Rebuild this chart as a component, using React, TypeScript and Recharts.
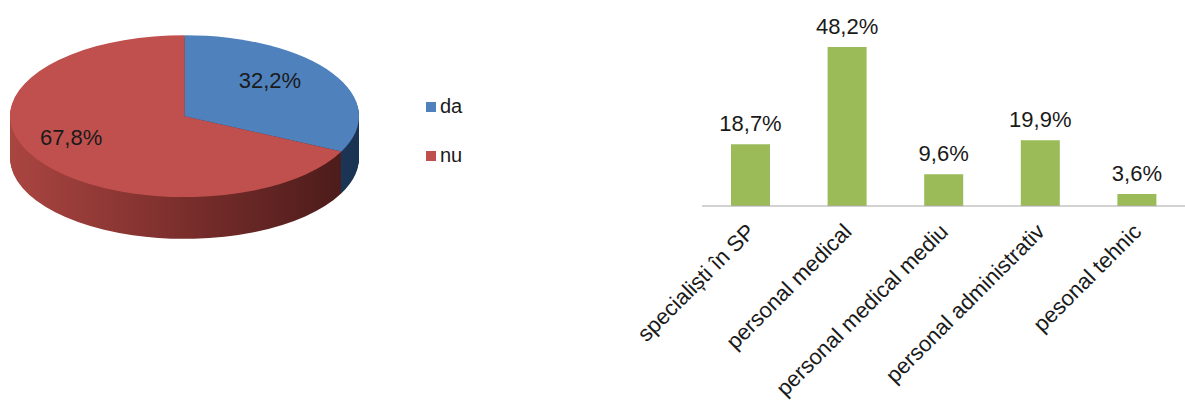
import React from "react";
import { PieChart, Pie, Cell, Legend, BarChart, Bar, XAxis, YAxis, LabelList } from "recharts";

// pie: share of answers
const pieNames = ["da", "nu"];
const pieValues = [32.2, 67.8];
const pieColors = ["#4f81bd", "#c0504d"];

// bars: staff categories
const barCategories = [
  "specialiști în SP",
  "personal medical",
  "personal medical mediu",
  "personal administrativ",
  "pesonal tehnic",
];
const barValues = [18.7, 48.2, 9.6, 19.9, 3.6];

const pieData = pieNames.map((name, i) => ({ name, value: pieValues[i] }));
const barData = barCategories.map((name, i) => ({ name, value: barValues[i] }));

const fmt = (v: number) => v.toFixed(1).replace(".", ",") + "%";

// 3d pie is a flat pie squashed vertically; the side is made of stacked pies
const R = 174.5;
const CX = 184.5;
const SQUASH = 0.464;
const CY_PRE = 177;
const DEPTH_PRE = 90;
const TOP_CY = 116;
const layers: number[] = [];
for (let d = DEPTH_PRE; d > 0; d -= 2) layers.push(d);

const renderPieLabel = (p: any) => {
  const a = (p.midAngle * Math.PI) / 180;
  const x = p.cx + 0.672 * p.outerRadius * Math.cos(a) - 14;
  const y = p.cy - 7 - 0.672 * p.outerRadius * SQUASH * Math.sin(a);
  return (
    <text x={x} y={y} textAnchor="middle" dominantBaseline="central" fontSize={22} fill="#1a1a1a">
      {fmt(p.value)}
    </text>
  );
};

const PieLegend = () => (
  <div>
    {pieNames.map((n, i) => (
      <div key={n} style={{ display: "flex", alignItems: "center", height: 49 }}>
        <span style={{ width: 10, height: 10, background: pieColors[i], marginRight: 4 }} />
        <span style={{ fontSize: 20, color: "#1a1a1a" }}>{n}</span>
      </div>
    ))}
  </div>
);

const CategoryTick = (props: any) => {
  const { x, y, payload } = props;
  const ax = x + 6;
  const ay = y + 27;
  return (
    <text
      x={ax}
      y={ay}
      transform={`rotate(-45, ${ax}, ${ay})`}
      textAnchor="end"
      fontSize={22}
      fill="#1a1a1a"
    >
      {payload.value}
    </text>
  );
};

export default function App() {
  return (
    <div
      style={{
        position: "absolute",
        left: 0,
        top: 0,
        width: 1185,
        height: 401,
        background: "#fff",
        overflow: "hidden",
        fontFamily: "'Liberation Sans', Arial, sans-serif",
      }}
    >
      <div
        style={{
          position: "absolute",
          left: 0,
          top: TOP_CY - SQUASH * CY_PRE,
          width: 370,
          height: 450,
          transform: `scaleY(${SQUASH})`,
          transformOrigin: "top left",
        }}
      >
        <PieChart width={370} height={450} margin={{ top: 0, right: 0, bottom: 0, left: 0 }}>
          <defs>
            <linearGradient id="sideRed" gradientUnits="userSpaceOnUse" x1={CX - R} y1={0} x2={CX + R} y2={0}>
              <stop offset="0%" stopColor="#aa4541" />
              <stop offset="50%" stopColor="#7a2e2c" />
              <stop offset="100%" stopColor="#471a19" />
            </linearGradient>
            <linearGradient id="sideBlue" gradientUnits="userSpaceOnUse" x1={CX - R} y1={0} x2={CX + R} y2={0}>
              <stop offset="0%" stopColor="#2f5480" />
              <stop offset="100%" stopColor="#1b3352" />
            </linearGradient>
          </defs>
          {layers.map((d) => (
            <Pie
              key={d}
              data={pieData}
              dataKey="value"
              cx={CX}
              cy={CY_PRE + d}
              outerRadius={R}
              startAngle={90}
              endAngle={-270}
              stroke="none"
              legendType="none"
              isAnimationActive={false}
            >
              {pieData.map((e, i) => (
                <Cell key={e.name} fill={i === 0 ? "url(#sideBlue)" : "url(#sideRed)"} />
              ))}
            </Pie>
          ))}
          <Pie
            data={pieData}
            dataKey="value"
            cx={CX}
            cy={CY_PRE}
            outerRadius={R}
            startAngle={90}
            endAngle={-270}
            stroke="none"
            legendType="none"
            isAnimationActive={false}
          >
            {pieData.map((e, i) => (
              <Cell key={e.name} fill={pieColors[i]} />
            ))}
          </Pie>
        </PieChart>
      </div>

      <div style={{ position: "absolute", left: 0, top: 0 }}>
        <PieChart width={600} height={260} margin={{ top: 0, right: 0, bottom: 0, left: 0 }}>
          <Pie
            data={pieData}
            dataKey="value"
            cx={CX}
            cy={TOP_CY}
            outerRadius={R}
            startAngle={90}
            endAngle={-270}
            stroke="none"
            fillOpacity={0}
            label={renderPieLabel}
            labelLine={false}
            isAnimationActive={false}
          >
            {pieData.map((e, i) => (
              <Cell key={e.name} fill={pieColors[i]} />
            ))}
          </Pie>
          <Legend content={<PieLegend />} wrapperStyle={{ left: 426, top: 82, width: 80 }} />
        </PieChart>
      </div>

      <div style={{ position: "absolute", left: 600, top: 0 }}>
        <BarChart width={585} height={401} data={barData} margin={{ top: 41, right: 0, bottom: 0, left: 102 }}>
          <XAxis
            dataKey="name"
            interval={0}
            height={195}
            tickLine={false}
            tickSize={0}
            tickMargin={0}
            axisLine={{ stroke: "#a6a6a6" }}
            tick={<CategoryTick />}
          />
          <YAxis hide domain={[0, 50]} />
          <Bar dataKey="value" fill="#9bbb59" barSize={39} isAnimationActive={false}>
            <LabelList dataKey="value" position="top" offset={13} fontSize={22} fill="#1a1a1a" formatter={(v: any) => fmt(Number(v))} />
          </Bar>
        </BarChart>
      </div>
    </div>
  );
}
